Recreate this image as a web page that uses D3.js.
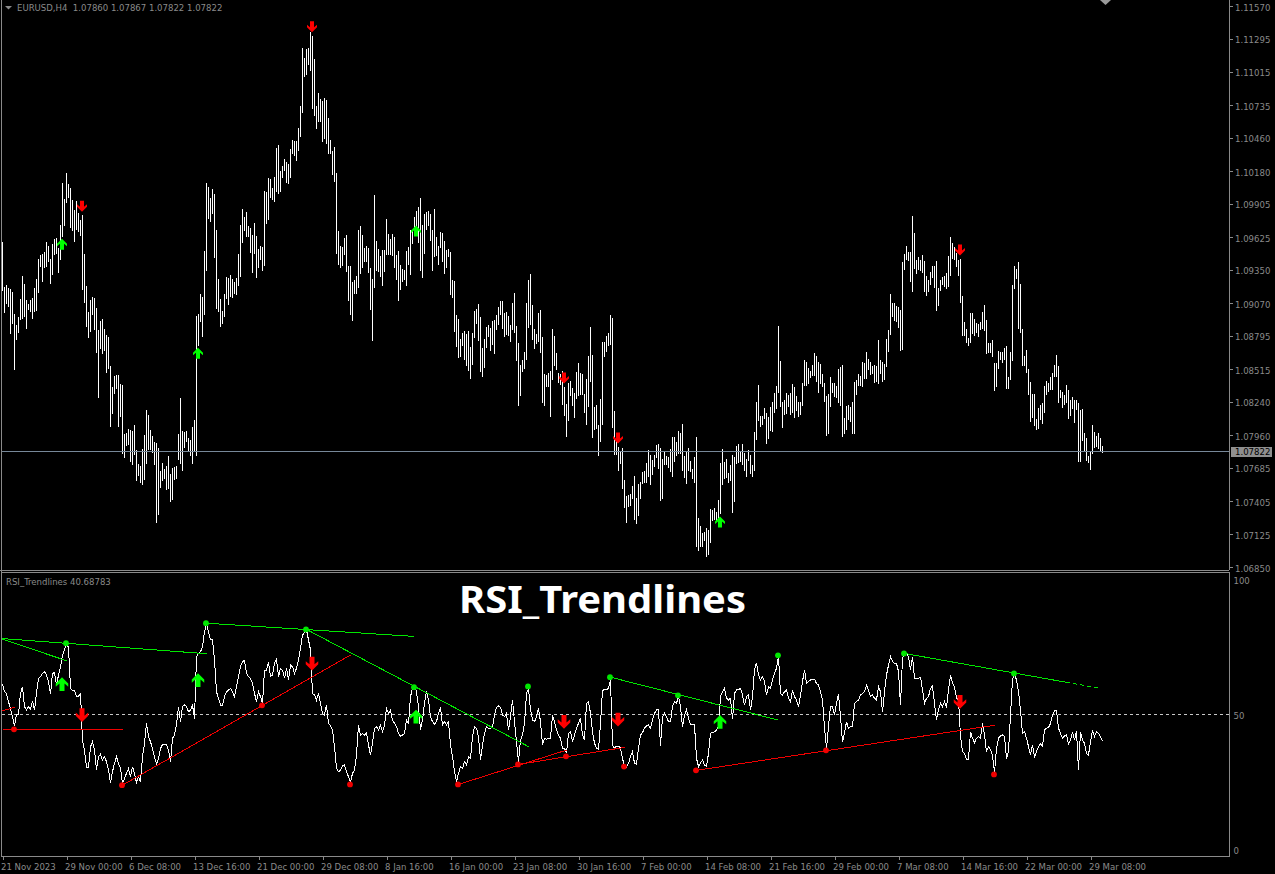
<!DOCTYPE html>
<html><head><meta charset="utf-8">
<script src="https://cdn.jsdelivr.net/npm/d3@7"></script>
<style>html,body{margin:0;padding:0;background:#000;overflow:hidden}svg{display:block}
text{font-family:"DejaVu Sans";font-stretch:condensed;font-size:9.5px;fill:#8a8a8a}</style></head><body>
<script>
const symbolTitle="EURUSD,H4  1.07860 1.07867 1.07822 1.07822";
const indicatorLabel="RSI_Trendlines 40.68783";
const bigTitle="RSI_Trendlines";
const lastPrice=1.07822;
const priceTicks=[1.11570,1.11295,1.11015,1.10735,1.10460,1.10180,1.09905,1.09625,1.09350,1.09070,1.08795,1.08515,1.08240,1.07960,1.07685,1.07405,1.07125,1.06850];
const rsiTicks=[100,50,0];
const timeTicks=["21 Nov 2023","29 Nov 00:00","6 Dec 08:00","13 Dec 16:00","21 Dec 00:00","29 Dec 08:00","8 Jan 16:00","16 Jan 00:00","23 Jan 08:00","30 Jan 16:00","7 Feb 00:00","14 Feb 08:00","21 Feb 16:00","29 Feb 00:00","7 Mar 08:00","14 Mar 16:00","22 Mar 00:00","29 Mar 08:00"];
// bar highs and lows, in 1e-5 above 1.0
const barHigh=[9585,9207,9221,9201,9187,9164,8976,8884,8954,9103,9296,9229,9094,9061,9094,9111,9195,9271,9440,9473,9487,9498,9583,9549,9440,9566,9608,9614,9538,9726,10077,9945,10161,10071,10035,9936,9852,9931,9830,9768,9810,9482,9212,8993,9094,9120,9111,9027,8842,8917,8934,8850,8802,8783,8538,8362,8454,8463,8463,8387,8378,7971,7977,8008,7999,7991,8042,7831,7713,7696,7840,7963,8168,8126,7999,7949,7901,7893,7848,7654,7727,7674,7696,7781,7629,7685,7691,7696,7966,8275,7991,7985,7991,7935,7915,8028,8084,8960,8976,9145,9120,9507,10077,10043,9953,10029,9987,9684,9271,9103,9002,9145,9288,9280,9305,9271,9246,9280,9482,
9726,9860,9796,9835,9717,9700,9641,9743,9633,9526,9549,9540,10012,10004,10121,10113,10037,10130,10374,10399,10180,10223,10281,10256,10239,10366,10441,10433,10433,10543,10728,11216,11132,11208,11216,11351,11317,11124,10728,10837,10787,10770,10795,10778,10627,10441,10349,10383,10164,9675,9549,9540,9616,9641,9380,9380,9246,9263,9296,9684,9717,9641,9532,9549,9532,9364,9271,9978,9591,9524,9465,9515,9515,9776,9650,9608,9650,9625,9473,9507,9389,9355,9347,9507,9540,9684,9684,9793,9844,9877,9953,9726,9818,9835,9844,
9819,9684,9861,9625,9549,9667,9659,9592,9516,9524,9499,9263,9255,8968,8935,8766,8817,8834,8808,8834,8699,8817,9002,9019,9061,8952,8690,8766,8867,8884,8859,8918,8926,8968,9036,9086,9086,8985,8994,8960,8884,9069,9154,8876,8733,8547,8589,8657,9069,9263,9314,9053,8850,8808,8985,9010,8783,8472,8463,8480,8497,8850,8792,8648,8480,8472,8497,8362,8219,8396,8413,8354,8312,8488,8564,8480,8472,8303,8429,8623,8867,8632,8194,8210,8042,8261,8741,8741,8792,8817,8968,8943,8160,7916,7857,7815,7848,7579,7444,7453,7461,7528,7613,7427,7545,7562,7646,7655,7722,7832,7789,7747,7789,7874,7882,
7848,7756,7815,7781,7773,7840,7941,7941,7899,7992,7975,8051,7781,7815,7848,7739,7672,7773,7941,7259,7192,7133,7141,7175,7158,7335,7326,7343,7310,7411,7722,7840,7731,7756,7638,7705,7789,7773,7865,7882,7823,7882,7806,7756,7832,7789,7705,7983,8236,8379,8118,8118,8185,8143,8110,8194,8236,8312,8371,8876,8581,8236,8253,8312,8295,8312,8387,8362,8286,8236,8236,8396,8589,8573,8522,8497,8547,8648,8623,8573,8556,8472,8396,8286,8303,8446,8396,8396,8371,8514,8531,8547,8101,8202,8211,8194,8236,8404,8421,8472,
8454,8572,8564,8656,8597,8572,8538,8547,8538,8757,8589,8572,8555,8766,8841,9145,9069,9069,9044,9035,9010,9414,9481,9549,9498,9498,9801,9658,9431,9456,9431,9473,9423,9296,9263,9330,9380,9380,9423,9195,9263,9288,9296,9321,9465,9625,9574,9540,9490,9431,9439,9128,8909,8850,8774,8985,8985,8934,8900,8892,8909,8993,9052,8926,8732,8732,8757,8564,8564,8665,8656,8656,8690,8707,8446,8656,9220,9380,9355,9414,9229,8850,8623,8673,8513,8404,8303,8303,8092,8185,8210,8227,8370,8412,8395,8446,8479,8547,8631,8538,8336,8319,8294,8378,8336,8252,8277,8252,8252,8227,8168,8176,7974,7932,7780,7814,8041,7983,7949,7974,7932,7865];
const barLow=[9173,8988,9061,9038,8814,8892,8505,8757,8819,8926,8940,8954,8853,9010,8993,8937,8996,9002,9156,9375,9249,9369,9375,9417,9235,9308,9479,9487,9324,9431,9628,9717,9914,9956,9698,9678,9585,9684,9667,9636,9178,9072,8870,8777,8828,8968,8847,8651,8272,8682,8645,8665,8482,8516,8028,8134,8308,8350,8028,8112,7803,7767,7868,7873,7733,7708,7789,7573,7612,7556,7539,7578,7719,7831,7831,7809,7705,7219,7284,7514,7573,7592,7494,7503,7396,7410,7584,7592,7747,7713,7657,7848,7901,7823,7781,7713,7817,7781,8707,8909,8786,8968,9341,9774,9751,9818,9448,9018,8993,8870,8898,8954,9103,9055,9120,9111,9145,9136,9215,
9291,9577,9678,9627,9627,9493,9324,9481,9282,9366,9431,9341,9383,9737,9768,9956,9936,9922,10004,9990,10004,10121,10180,10079,10071,10124,10324,10310,10267,10352,10470,10672,10975,10992,11073,11025,10703,10644,10537,10593,10596,10427,10450,10408,10324,10324,10150,10091,9481,9389,9366,9380,9473,9330,9088,8971,8920,9145,9145,9195,9313,9364,9414,9414,9324,9010,8752,9195,9338,9330,9288,9212,9330,9473,9473,9473,9465,9364,9263,9088,9178,9248,9263,9212,9389,9305,9571,9641,9712,9574,9338,9282,9481,9684,9717,
9592,9339,9460,9465,9389,9533,9415,9314,9364,9457,9137,9112,8825,8699,8606,8615,8707,8589,8539,8497,8429,8547,8775,8893,8749,8488,8446,8522,8690,8783,8665,8716,8640,8842,8884,8968,8850,8783,8800,8792,8741,8842,8817,8581,8202,8286,8488,8514,8589,8859,8884,8758,8682,8724,8741,8648,8227,8202,8362,8362,8109,8421,8539,8505,8396,8379,8210,8118,7941,8076,8286,8202,8101,8261,8286,8295,8295,8143,8042,8194,8404,7933,8000,8008,7781,7899,8042,8615,8657,8707,8716,8017,7789,7789,7655,7714,7503,7343,7217,7352,7360,7419,7242,7208,7276,7419,7545,7554,7554,7604,7537,7621,7688,7764,7672,
7402,7419,7705,7705,7680,7646,7604,7731,7781,7798,7798,7655,7596,7545,7660,7646,7587,7554,7015,6981,7015,7015,7065,6933,6947,7048,7234,7242,7234,7242,7293,7537,7587,7596,7554,7571,7301,7394,7714,7722,7731,7705,7655,7604,7739,7630,7604,7655,7916,8076,8025,8042,8093,7882,7924,7992,7983,8143,8177,8312,8194,8017,8126,8135,8194,8126,8143,8101,8160,8110,8126,8202,8371,8371,8387,8438,8455,8455,8404,8312,8387,8362,8236,7950,7972,8194,8312,8278,8270,8227,8202,7941,7966,8000,8084,8067,7966,7966,8295,8371,
8370,8361,8429,8429,8505,8463,8471,8395,8404,8387,8471,8404,8420,8530,8656,8799,8951,8917,8909,8858,8665,8673,9347,9431,9423,9246,9161,9355,9313,9347,9338,9321,9161,9128,9161,9220,9279,9195,9001,9044,9170,9220,9204,9187,9204,9296,9439,9431,9372,9296,9069,8791,8791,8732,8707,8732,8808,8791,8816,8783,8841,8850,8833,8639,8648,8648,8614,8328,8361,8513,8589,8564,8589,8345,8345,8420,8580,9187,9271,8850,8816,8538,8538,8479,8294,8067,8100,8033,8000,8008,8084,8050,8143,8294,8319,8336,8336,8446,8446,8227,8269,8185,8210,8227,8092,8117,8176,8058,8168,7733,7733,7907,7823,7738,7722,7663,7797,7848,7856,7839,7823,7806];
// RSI per bar
const rsiValues=[61.5,58.6,58.0,54.9,52.4,49.4,45.9,50.3,50.3,58.0,60.5,53.1,51.8,53.1,52.1,55.3,51.8,58.0,63.6,64.2,65.4,66.0,64.8,62.3,57.8,65.4,65.7,61.1,64.8,67.9,72.2,74.1,76.5,75.0,59.9,59.0,59.2,57.0,57.0,58.0,
40.7,37.0,30.6,30.6,38.2,40.1,37.0,29.8,34.5,35.5,33.3,34.5,32.7,29.6,24.9,29.0,32.1,34.5,32.1,30.2,24.7,26.5,28.4,30.2,27.1,30.8,28.4,24.9,27.1,25.3,34.5,39.5,46.9,42.0,40.1,37.6,34.5,31.8,33.9,37.6,39.1,39.2,39.1,37.0,32.7,41.3,42.6,46.3,53.1,47.5,53.1,53.7,53.1,51.2,51.8,53.7,48.7,71.6,72.8,73.4,75.3,80.8,83.9,80.8,77.8,77.8,70.3,58.6,56.1,53.7,53.7,56.8,58.6,59.2,59.9,58.6,56.8,60.5,64.2,67.9,69.7,70.3,65.4,64.2,63.6,61.7,58.0,54.9,58.6,56.8,54.3,66.6,66.6,69.7,64.2,64.8,69.1,70.6,64.2,67.3,66.6,63.6,67.3,62.9,68.5,67.9,65.4,67.3,70.3,74.7,79.6,80.5,81.5,77.8,74.1,58.0,57.4,55.5,58.0,54.3,50.6,50.0,53.7,46.9,46.0,44.4,38.2,30.2,29.0,29.6,31.1,31.5,29.0,27.1,24.9,28.4,29.6,35.2,46.3,42.6,43.2,42.6,43.4,38.9,35.2,39.5,45.0,45.7,44.4,46.3,43.8,46.3,52.4,50.6,51.8,48.1,46.9,45.7,43.2,42.2,42.6,43.2,48.1,46.9,56.8,59.9,60.7,58.6,53.1,
44.4,48.2,54.3,59.0,55.6,49.4,47.5,46.7,47.5,50.6,52.8,46.3,47.5,46.3,47.5,38.9,34.6,29.0,25.3,28.4,30.9,30.2,32.7,31.5,34.6,33.9,42.0,45.7,45.1,42.0,33.3,38.9,43.2,45.7,45.1,45.1,45.7,50.0,52.8,53.3,52.8,50.0,49.4,50.6,44.4,49.4,55.6,47.5,40.1,32.7,40.7,42.6,46.9,58.0,59.6,51.9,48.2,47.5,49.4,52.5,47.5,38.9,41.4,41.0,41.4,41.4,50.0,47.5,44.4,42.6,41.4,37.7,37.7,35.8,43.2,43.8,40.1,42.6,45.1,46.9,48.8,42.6,40.7,54.3,54.9,50.6,43.8,39.5,37.7,37.3,46.9,59.0,59.6,59.3,59.9,63.0,38.9,37.7,38.5,38.5,37.7,33.9,30.9,30.6,32.1,34.6,36.4,32.1,31.8,37.7,42.6,43.5,45.1,45.9,46.3,45.1,48.2,50.6,51.9,52.1,38.5,49.4,50.6,49.4,47.5,47.5,53.1,54.9,54.3,57.0,53.1,45.7,50.0,51.9,48.8,46.3,46.3,46.3,33.9,30.9,32.3,33.3,31.5,30.9,35.8,43.2,43.5,43.8,44.4,45.7,56.8,58.6,59.9,56.2,55.6,56.2,48.4,58.0,59.3,59.3,59.9,57.4,53.7,56.8,57.4,51.9,56.8,66.7,69.4,64.8,63.0,64.2,62.4,57.4,60.5,59.9,63.0,65.4,67.3,71.6,58.0,57.4,58.6,59.3,56.2,54.9,59.3,56.8,55.6,53.1,57.4,62.4,66.7,61.7,62.4,63.0,63.0,63.2,61.7,61.1,
58.6,55.6,45.1,37.7,45.7,53.1,53.1,50.0,54.3,57.8,49.4,40.1,43.2,47.5,45.1,45.7,45.7,54.3,54.9,55.6,57.4,58.0,58.6,61.1,59.3,56.8,57.4,56.2,55.6,60.5,58.6,51.2,58.6,64.8,68.5,71.6,69.8,69.1,69.1,66.1,53.7,71.0,72.9,72.9,71.6,66.7,71.6,63.6,63.6,63.6,64.0,59.3,54.3,56.2,56.8,59.9,60.7,54.3,48.2,51.9,54.3,53.1,54.9,52.8,59.3,64.8,61.7,60.5,56.2,55.6,42.0,36.4,35.8,33.6,33.6,43.8,41.4,39.8,41.4,42.0,41.4,46.9,42.6,36.4,38.3,37.0,35.2,28.6,37.7,41.4,42.2,42.6,42.0,33.9,36.4,50.0,63.0,65.2,63.0,58.6,51.9,43.2,43.8,41.4,38.3,35.2,38.9,34.3,36.4,38.3,39.3,38.3,44.4,45.1,45.3,46.9,50.0,51.6,51.6,45.1,43.2,41.4,42.2,42.6,39.3,40.7,43.8,40.7,44.2,29.6,43.8,40.7,39.5,35.6,35.2,40.1,44.4,42.0,43.8,43.2,42.0,40.5];
// trendlines: bar index / RSI pairs
const greenLines=[[0,78.3,102,72.7],[0,78.1,32,70.1],[102,84.0,206,79.1],[152,81.7,263,38.3],[304,64.0,388,48.1],[451,72.8,532,62.1]];
const greenDashed=[[532,62.1,548,60.0]];
const redLines=[[0,51.6,6,52.8],[0,44.7,60,44.7],[60,24.0,174,72.2],[228,24.3,282,37.0],[258,31.7,311,38.0],[347,29.5,496,46.2]];
const greenDotBars=[32,102,152,206,263,304,338,388,451,506];
const greenDotRsi=[76.6,84.0,81.7,60.3,60.6,64.0,57.3,72.1,72.8,65.4];
const redDotBars=[6,60,130,174,228,258,282,311,347,412,496];
const redDotRsi=[44.7,24.0,53.6,24.3,24.3,31.7,34.7,30.9,29.5,36.9,28.0];
// signal arrows
const priceUpBars=[30,98,207,359], priceUpVals=[1.09566,1.08648,1.09678,1.07228];
const priceDownBars=[40,155,281,308,479], priceDownVals=[1.09886,1.11396,1.08440,1.07935,1.09518];
const rsiUpBars=[30,98,207,359], rsiUpVals=[61.4,62.9,49.4,47.5];
const rsiDownBars=[40,155,281,308,479], rsiDownVals=[50,69,47.5,48.3,54.9];

const W=1275,H=874,axisX=1229,gray="#8a8a8a";
const svg=d3.select("body").append("svg").attr("width",W).attr("height",H).style("background","#000");
const xBar=d3.scaleLinear().domain([0,550]).range([2,1102]);
const yPrice=d3.scaleLinear().domain([1.0685,1.1157]).range([567,6]);
const yRsi=d3.scaleLinear().domain([0,100]).range([850,580]);
const crisp=g=>g.attr("shape-rendering","crispEdges");

// frame
const frame=svg.append("g").call(crisp).attr("stroke",gray).attr("fill","none");
[[1.5,0,1.5,856.5],[0,570.5,axisX,570.5],[1,572.5,axisX,572.5]].forEach(d=>frame.append("line").attr("x1",d[0]).attr("y1",d[1]).attr("x2",d[2]).attr("y2",d[3]));

// price bars
const bars=svg.append("g").call(crisp);
bars.selectAll("rect").data(barHigh).join("rect")
 .attr("x",(d,i)=>xBar(i)).attr("width",1).attr("fill","#fff")
 .attr("y",d=>yPrice(1+d/1e5)).attr("height",(d,i)=>yPrice(1+barLow[i]/1e5)-yPrice(1+d/1e5));

// last price line
const lastY=Math.round(yPrice(lastPrice))+.5;
svg.append("line").call(crisp).attr("x1",2).attr("x2",axisX).attr("y1",lastY).attr("y2",lastY).attr("stroke","#778899");

// axes
function styleAxis(g){g.call(crisp);g.selectAll("line").attr("stroke",gray);g.select(".domain").attr("stroke",gray);g.selectAll("text").attr("fill",gray).style("font-size","9.5px");}
const pa=svg.append("g").attr("transform",`translate(${axisX+.5},0)`).call(d3.axisRight(yPrice).tickValues(priceTicks).tickSize(3).tickPadding(2.5).tickSizeOuter(0).tickFormat(d3.format(".5f"))).call(styleAxis);
pa.select(".domain").attr("d","M0,0V570");
pa.selectAll("text").attr("dy",".42em");
const ra=svg.append("g").attr("transform",`translate(${axisX+.5},0)`).call(d3.axisRight(yRsi).tickValues(rsiTicks).tickSize(0).tickPadding(4).tickSizeOuter(0)).call(styleAxis);
ra.select(".domain").attr("d","M0,572V856.5");
const xTime=d3.scalePoint().domain(timeTicks).range([xBar(0),xBar(0)+64*(timeTicks.length-1)]);
const xa=svg.append("g").attr("transform","translate(.5,856.5)").call(d3.axisBottom(xTime).tickSize(3).tickPadding(3.5).tickSizeOuter(0)).call(styleAxis);
xa.select(".domain").attr("d",`M0,0H${axisX}`);
xa.selectAll("text").attr("text-anchor","start").attr("x",-2);

// last price label
svg.append("rect").call(crisp).attr("x",1231).attr("y",lastY-5).attr("width",41).attr("height",10.5).attr("fill","#8f8f8f");
svg.append("text").attr("x",1235).attr("y",lastY+3.5).style("fill","#000").text(d3.format(".5f")(lastPrice));

// 50 level
const midY=Math.floor(yRsi(50))-.5;
svg.append("line").call(crisp).attr("x1",2).attr("x2",axisX).attr("y1",midY).attr("y2",midY).attr("stroke","#c8c8c8").attr("stroke-dasharray","3 3");

// labels
svg.append("path").attr("d","M5,6h7l-3.5,3.5z").attr("fill",gray);
svg.append("text").attr("x",17).attr("y",10.5).attr("xml:space","preserve").text(symbolTitle);
svg.append("text").attr("x",6).attr("y",585).text(indicatorLabel);
svg.append("path").attr("d","M1100,0h11l-5.5,5z").attr("fill","#9a9a9a");
svg.append("text").attr("x",459).attr("y",612.5).attr("textLength",287).attr("lengthAdjust","spacingAndGlyphs").style("font-family","Noto Sans").style("font-stretch","normal").style("font-size","38px").style("font-weight","700").style("fill","#fff").text(bigTitle);

// RSI line
const rsiLine=d3.line().x((d,i)=>xBar(i)+.5).y(d=>yRsi(d));
svg.append("path").call(crisp).datum(rsiValues).attr("d",rsiLine).attr("fill","none").attr("stroke","#fff").attr("stroke-width",1);

// trendlines
const tl=svg.append("g").call(crisp).attr("fill","none");
function drawLines(rows,col,dash){tl.selectAll(null).data(rows).join("line").attr("x1",d=>xBar(d[0])+.5).attr("y1",d=>yRsi(d[1])).attr("x2",d=>xBar(d[2])+.5).attr("y2",d=>yRsi(d[3])).attr("stroke",col).attr("stroke-dasharray",dash);}
drawLines(greenLines,"#00e600",null);
drawLines(greenDashed,"#00e600","4 3");
drawLines(redLines,"#f00000",null);
svg.append("g").selectAll("circle").data(greenDotBars).join("circle").attr("cx",d=>xBar(d)).attr("cy",(d,i)=>yRsi(greenDotRsi[i])).attr("r",2.9).attr("fill","#00e600");
svg.append("g").selectAll("circle").data(redDotBars).join("circle").attr("cx",d=>xBar(d)).attr("cy",(d,i)=>yRsi(redDotRsi[i])).attr("r",2.9).attr("fill","#f00000");

// arrows
const upArrow="M0,-5.5L5,-.5V2L2,-.5V5.5H-2V-.5L-5,2V-.5Z";
function arrows(bs,vals,yS,col,down,k){
 svg.append("g").selectAll("path").data(bs).join("path").attr("d",upArrow).attr("fill",col)
  .attr("transform",(d,i)=>`translate(${xBar(d)},${yS(vals[i])}) scale(${k},${down?-k:k})`);
}
arrows(priceUpBars,priceUpVals,yPrice,"#00ff00",false,1);
arrows(priceDownBars,priceDownVals,yPrice,"#ff0000",true,1);
arrows(rsiUpBars,rsiUpVals,yRsi,"#00ff00",false,1.25);
arrows(rsiDownBars,rsiDownVals,yRsi,"#ff0000",true,1.25);
</script></body></html>
